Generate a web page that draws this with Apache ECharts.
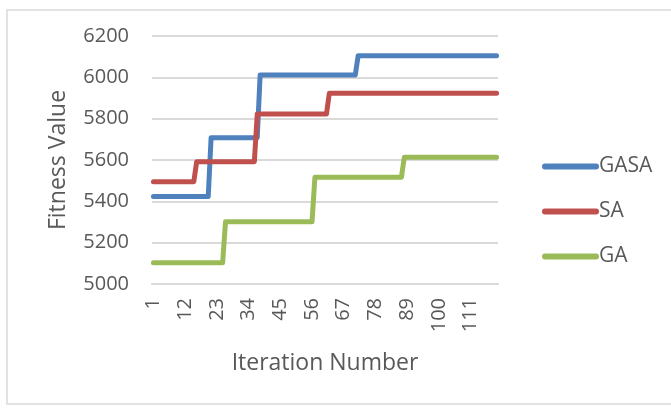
<!DOCTYPE html>
<html>
<head>
<meta charset="utf-8">
<script src="https://cdn.jsdelivr.net/npm/echarts@6/dist/echarts.min.js"></script>
<style>
  html, body { margin: 0; padding: 0; background: #ffffff; }
  #chart { width: 671px; height: 411px; }
</style>
</head>
<body>
<div id="chart"></div>
<script>
// Iteration numbers along the x axis
const iterations = [
  1, 2, 3, 4, 5, 6, 7, 8, 9, 10,
  11, 12, 13, 14, 15, 16, 17, 18, 19, 20,
  21, 22, 23, 24, 25, 26, 27, 28, 29, 30,
  31, 32, 33, 34, 35, 36, 37, 38, 39, 40,
  41, 42, 43, 44, 45, 46, 47, 48, 49, 50,
  51, 52, 53, 54, 55, 56, 57, 58, 59, 60,
  61, 62, 63, 64, 65, 66, 67, 68, 69, 70,
  71, 72, 73, 74, 75, 76, 77, 78, 79, 80,
  81, 82, 83, 84, 85, 86, 87, 88, 89, 90,
  91, 92, 93, 94, 95, 96, 97, 98, 99, 100,
  101, 102, 103, 104, 105, 106, 107, 108, 109, 110,
  111, 112, 113, 114, 115, 116, 117, 118, 119, 120
];

// Best fitness found so far, per iteration
const gasa = [
  5423, 5423, 5423, 5423, 5423, 5423, 5423, 5423, 5423, 5423,
  5423, 5423, 5423, 5423, 5423, 5423, 5423, 5423, 5423, 5423,
  5708, 5708, 5708, 5708, 5708, 5708, 5708, 5708, 5708, 5708,
  5708, 5708, 5708, 5708, 5708, 5708, 5708, 6011, 6011, 6011,
  6011, 6011, 6011, 6011, 6011, 6011, 6011, 6011, 6011, 6011,
  6011, 6011, 6011, 6011, 6011, 6011, 6011, 6011, 6011, 6011,
  6011, 6011, 6011, 6011, 6011, 6011, 6011, 6011, 6011, 6011,
  6011, 6105, 6105, 6105, 6105, 6105, 6105, 6105, 6105, 6105,
  6105, 6105, 6105, 6105, 6105, 6105, 6105, 6105, 6105, 6105,
  6105, 6105, 6105, 6105, 6105, 6105, 6105, 6105, 6105, 6105,
  6105, 6105, 6105, 6105, 6105, 6105, 6105, 6105, 6105, 6105,
  6105, 6105, 6105, 6105, 6105, 6105, 6105, 6105, 6105, 6105
];

const sa = [
  5495, 5495, 5495, 5495, 5495, 5495, 5495, 5495, 5495, 5495,
  5495, 5495, 5495, 5495, 5495, 5592, 5592, 5592, 5592, 5592,
  5592, 5592, 5592, 5592, 5592, 5592, 5592, 5592, 5592, 5592,
  5592, 5592, 5592, 5592, 5592, 5592, 5822, 5822, 5822, 5822,
  5822, 5822, 5822, 5822, 5822, 5822, 5822, 5822, 5822, 5822,
  5822, 5822, 5822, 5822, 5822, 5822, 5822, 5822, 5822, 5822,
  5822, 5923, 5923, 5923, 5923, 5923, 5923, 5923, 5923, 5923,
  5923, 5923, 5923, 5923, 5923, 5923, 5923, 5923, 5923, 5923,
  5923, 5923, 5923, 5923, 5923, 5923, 5923, 5923, 5923, 5923,
  5923, 5923, 5923, 5923, 5923, 5923, 5923, 5923, 5923, 5923,
  5923, 5923, 5923, 5923, 5923, 5923, 5923, 5923, 5923, 5923,
  5923, 5923, 5923, 5923, 5923, 5923, 5923, 5923, 5923, 5923
];

const ga = [
  5103, 5103, 5103, 5103, 5103, 5103, 5103, 5103, 5103, 5103,
  5103, 5103, 5103, 5103, 5103, 5103, 5103, 5103, 5103, 5103,
  5103, 5103, 5103, 5103, 5103, 5301, 5301, 5301, 5301, 5301,
  5301, 5301, 5301, 5301, 5301, 5301, 5301, 5301, 5301, 5301,
  5301, 5301, 5301, 5301, 5301, 5301, 5301, 5301, 5301, 5301,
  5301, 5301, 5301, 5301, 5301, 5301, 5516, 5516, 5516, 5516,
  5516, 5516, 5516, 5516, 5516, 5516, 5516, 5516, 5516, 5516,
  5516, 5516, 5516, 5516, 5516, 5516, 5516, 5516, 5516, 5516,
  5516, 5516, 5516, 5516, 5516, 5516, 5516, 5613, 5613, 5613,
  5613, 5613, 5613, 5613, 5613, 5613, 5613, 5613, 5613, 5613,
  5613, 5613, 5613, 5613, 5613, 5613, 5613, 5613, 5613, 5613,
  5613, 5613, 5613, 5613, 5613, 5613, 5613, 5613, 5613, 5613
];

const seriesNames = ['GASA', 'SA', 'GA'];
const seriesColors = ['#4f81bd', '#c0504d', '#9bbb59'];
const yTicks = { min: 5000, max: 6200, step: 200 };

const FONT = '"Open Sans", sans-serif';
const TEXT = '#595959';
const GRID_LINE = '#d9d9d9';

// Rounded bar used as legend swatch
const legendIcon = 'path://M3,0 H54 A3,3 0 0 1 54,6 H3 A3,3 0 0 1 3,0 Z';

function lineSeries(name, data, color) {
  return {
    name: name,
    type: 'line',
    data: data,
    showSymbol: false,
    symbol: 'none',
    smooth: false,
    animation: false,
    itemStyle: { color: color },
    lineStyle: { color: color, width: 5, cap: 'round', join: 'round' },
    emphasis: { disabled: true }
  };
}

const chart = echarts.init(document.getElementById('chart'), null, { renderer: 'canvas' });

chart.setOption({
  animation: false,
  backgroundColor: '#ffffff',
  textStyle: { fontFamily: FONT, color: TEXT },
  graphic: [{
    type: 'rect',
    shape: { x: 7, y: 10, width: 680, height: 394 },
    style: { fill: 'none', stroke: GRID_LINE, lineWidth: 1.5 },
    silent: true,
    z: -1
  }],
  grid: { left: 152, right: 173, top: 36, bottom: 127, containLabel: false },
  legend: {
    orient: 'vertical',
    left: 537,
    top: 151,
    itemWidth: 57,
    itemHeight: 6,
    itemGap: 24,
    icon: legendIcon,
    data: seriesNames,
    textStyle: { fontFamily: FONT, fontSize: 21, color: TEXT, padding: [0, 0, 0, -5] },
    selectedMode: false
  },
  xAxis: {
    type: 'category',
    data: iterations,
    boundaryGap: true,
    name: 'Iteration Number',
    nameLocation: 'middle',
    nameGap: 68,
    nameTextStyle: { fontFamily: FONT, fontSize: 23, color: TEXT },
    axisLine: { show: true, lineStyle: { color: GRID_LINE, width: 2 } },
    axisTick: { show: false },
    axisLabel: {
      interval: 10,
      rotate: 90,
      margin: 14,
      fontFamily: FONT,
      fontSize: 20,
      color: TEXT
    },
    splitLine: { show: false }
  },
  yAxis: {
    type: 'value',
    min: yTicks.min,
    max: yTicks.max,
    interval: yTicks.step,
    name: 'Fitness Value',
    nameLocation: 'middle',
    nameGap: 82,
    nameTextStyle: { fontFamily: FONT, fontSize: 23, color: TEXT },
    axisLine: { show: false },
    axisTick: { show: false },
    axisLabel: {
      margin: 23,
      fontFamily: FONT,
      fontSize: 20,
      color: TEXT,
      formatter: function (v) { return String(v); }
    },
    splitLine: { show: true, lineStyle: { color: GRID_LINE, width: 2 } }
  },
  series: [
    lineSeries(seriesNames[0], gasa, seriesColors[0]),
    lineSeries(seriesNames[1], sa, seriesColors[1]),
    lineSeries(seriesNames[2], ga, seriesColors[2])
  ]
});
</script>
</body>
</html>
